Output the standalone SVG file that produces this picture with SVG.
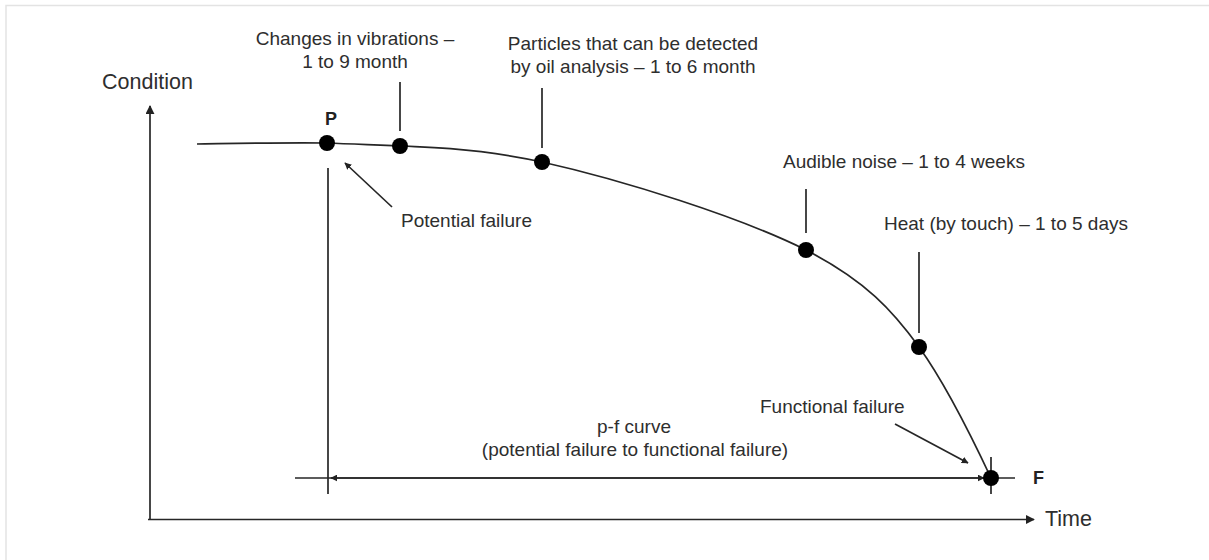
<svg xmlns="http://www.w3.org/2000/svg" width="1209" height="560" viewBox="0 0 1209 560">
<defs>
<style>
.t{font-family:"Liberation Sans",Arial,sans-serif;font-size:19px;fill:#2e2e2e}
.ax{font-family:"Liberation Sans",Arial,sans-serif;font-size:21.5px;fill:#2e2e2e}
.b{font-family:"Liberation Sans",Arial,sans-serif;font-size:18px;font-weight:bold;fill:#222}
.ln{stroke:#262626;stroke-width:1.7;fill:none}
.dot{fill:#000}
</style>
<marker id="ah" viewBox="0 0 10 10" refX="9" refY="5" markerWidth="7" markerHeight="7" markerUnits="userSpaceOnUse" orient="auto-start-reverse">
<path d="M0,0 L10,5 L0,10 z" fill="#222"/>
</marker>
<marker id="ah2" viewBox="0 0 10 10" refX="9" refY="5" markerWidth="9" markerHeight="9" markerUnits="userSpaceOnUse" orient="auto-start-reverse">
<path d="M0,0 L10,5 L0,10 z" fill="#222"/>
</marker>
</defs>
<rect width="1209" height="560" fill="#fff"/>
<path d="M6,560 V5.5 H1209" stroke="#e3e3e3" stroke-width="1.5" fill="none"/>

<g id="connectors">
<line class="ln" x1="150" y1="520" x2="150" y2="106" stroke-width="2.4" marker-end="url(#ah2)"/>
<line class="ln" x1="148" y1="519.5" x2="1034" y2="519.5" stroke-width="2.6" marker-end="url(#ah2)"/>
<path class="ln" d="M197,144 C218.7,143.8 270,142.5 327,143 C384.5,146 462.2,144.2 542,162 C621.8,179.8 740,217 806,250 C866,281 893,311 919,347 C945,383 976,446 991,478"/>
<line class="ln" x1="328" y1="168" x2="328" y2="494"/>
<line class="ln" x1="295" y1="478" x2="1015" y2="478"/>
<line class="ln" x1="331" y1="478" x2="984" y2="478" marker-start="url(#ah)" marker-end="url(#ah)"/>
<line class="ln" x1="991" y1="457" x2="991" y2="494"/>
<line class="ln" x1="392" y1="207" x2="345" y2="163" marker-end="url(#ah)"/>
<line class="ln" x1="895" y1="424" x2="968" y2="463" marker-end="url(#ah)"/>
<line class="ln" x1="400" y1="82" x2="400" y2="131"/>
<line class="ln" x1="542" y1="88" x2="542" y2="148"/>
<line class="ln" x1="806" y1="189" x2="806" y2="233"/>
<line class="ln" x1="919" y1="252" x2="919" y2="333"/>
</g>

<g id="axes-labels">
<text class="ax" x="102" y="89">Condition</text>
<text class="ax" x="1045" y="526">Time</text>
</g>

<g id="node-P">
<circle class="dot" cx="327" cy="143" r="8"/>
<text class="b" x="331" y="125" text-anchor="middle">P</text>
<text class="t" x="401" y="227">Potential failure</text>
</g>

<g id="node-vibrations">
<circle class="dot" cx="400" cy="146" r="8"/>
<text class="t" x="355" y="45" text-anchor="middle">Changes in vibrations –</text>
<text class="t" x="355" y="68" text-anchor="middle">1 to 9 month</text>
</g>

<g id="node-oil">
<circle class="dot" cx="542" cy="162" r="8"/>
<text class="t" x="633" y="50" text-anchor="middle">Particles that can be detected</text>
<text class="t" x="633" y="73" text-anchor="middle">by oil analysis – 1 to 6 month</text>
</g>

<g id="node-noise">
<circle class="dot" cx="806" cy="250" r="8"/>
<text class="t" x="783" y="168">Audible noise – 1 to 4 weeks</text>
</g>

<g id="node-heat">
<circle class="dot" cx="919" cy="347" r="8"/>
<text class="t" x="884" y="230">Heat (by touch) – 1 to 5 days</text>
</g>

<g id="node-F">
<circle class="dot" cx="991" cy="478" r="8"/>
<text class="b" x="1033" y="484">F</text>
<text class="t" x="760" y="413">Functional failure</text>
</g>

<g id="pf-label">
<text class="t" x="634" y="433" text-anchor="middle">p-f curve</text>
<text class="t" x="635" y="456" text-anchor="middle">(potential failure to functional failure)</text>
</g>
</svg>
